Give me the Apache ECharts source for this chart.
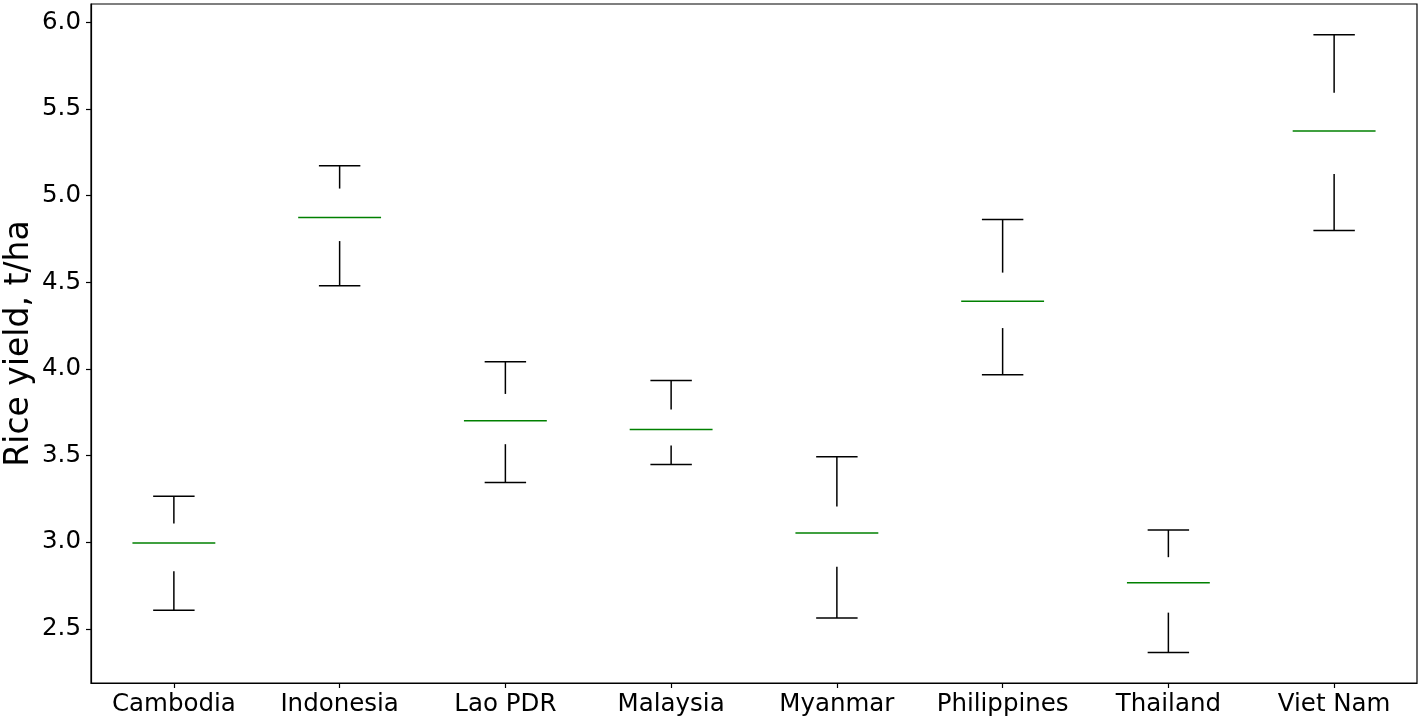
<!DOCTYPE html>
<html>
<head>
<meta charset="utf-8">
<script src="https://cdn.jsdelivr.net/npm/echarts@6/dist/echarts.min.js"></script>
<style>
  html, body { margin: 0; padding: 0; background: #fff; }
  #chart { width: 1422px; height: 723px; }
</style>
</head>
<body>
<div id="chart"></div>
<script>
// categories and whisker stats (t/ha)
const countries = ['Cambodia', 'Indonesia', 'Lao PDR', 'Malaysia', 'Myanmar', 'Philippines', 'Thailand', 'Viet Nam'];
const lowCap  = [2.607, 4.479, 3.344, 3.448, 2.562, 3.965, 2.363, 4.798];
const q1      = [2.832, 4.737, 3.565, 3.558, 2.858, 4.235, 2.593, 5.124];
const median  = [2.995, 4.873, 3.700, 3.650, 3.052, 4.390, 2.765, 5.372];
const q3      = [3.108, 5.040, 3.855, 3.765, 3.206, 4.555, 2.913, 5.593];
const highCap = [3.264, 5.172, 4.040, 3.932, 3.492, 4.862, 3.070, 5.927];
const yTicks  = ['2.5', '3.0', '3.5', '4.0', '4.5', '5.0', '5.5', '6.0'];

const FONT = 'DejaVu Sans';

const seriesData = countries.map((c, i) => [i, lowCap[i], q1[i], median[i], q3[i], highCap[i]]);

const chart = echarts.init(document.getElementById('chart'));

// whiskers + caps + median line, box itself not drawn
const renderItem = (params, api) => {
  const x = api.value(0);
  const pMin = api.coord([x, api.value(1)]);
  const pQ1 = api.coord([x, api.value(2)]);
  const pMed = api.coord([x, api.value(3)]);
  const pQ3 = api.coord([x, api.value(4)]);
  const pMax = api.coord([x, api.value(5)]);
  const bw = api.size([1, 0])[0];
  const capHalf = bw * 0.125;
  const medHalf = bw * 0.25;
  const blk = { stroke: '#000', lineWidth: 1.5 };
  return {
    type: 'group',
    children: [
      { type: 'line', shape: { x1: pQ3[0], y1: pQ3[1], x2: pMax[0], y2: pMax[1] }, style: blk },
      { type: 'line', shape: { x1: pMax[0] - capHalf, y1: pMax[1], x2: pMax[0] + capHalf, y2: pMax[1] }, style: blk },
      { type: 'line', shape: { x1: pQ1[0], y1: pQ1[1], x2: pMin[0], y2: pMin[1] }, style: blk },
      { type: 'line', shape: { x1: pMin[0] - capHalf, y1: pMin[1], x2: pMin[0] + capHalf, y2: pMin[1] }, style: blk },
      { type: 'line', shape: { x1: pMed[0] - medHalf, y1: pMed[1], x2: pMed[0] + medHalf, y2: pMed[1] }, style: { stroke: '#008000', lineWidth: 1.5 } }
    ]
  };
};

const tickVals = yTicks.map(Number);

const options = {
  animation: false,
  backgroundColor: '#fff',
  grid: {
    left: 91, right: 5, top: 4, bottom: 40,
    outerBoundsMode: 'none',
    containLabel: false,
    show: true, borderColor: '#000', borderWidth: 1.2, backgroundColor: 'transparent'
  },
  xAxis: {
    type: 'category',
    data: countries,
    boundaryGap: true,
    axisLine: { show: true, lineStyle: { color: '#000', width: 1.2 } },
    axisTick: { show: true, alignWithLabel: true, interval: 0, length: 5, lineStyle: { color: '#000', width: 1.2 } },
    axisLabel: { color: '#000', fontFamily: FONT, fontSize: 24.5, margin: 9, interval: 0, hideOverlap: false },
    splitLine: { show: false }
  },
  yAxis: {
    type: 'value',
    min: 2.187,
    max: 6.105,
    name: 'Rice yield, t/ha',
    nameLocation: 'middle',
    nameGap: 55,
    nameMoveOverlap: false,
    nameTextStyle: { color: '#000', fontFamily: FONT, fontSize: 33 },
    axisLine: { show: true, lineStyle: { color: '#000', width: 1.2 } },
    axisTick: { show: true, length: 5, customValues: tickVals, lineStyle: { color: '#000', width: 1.2 } },
    axisLabel: {
      color: '#000', fontFamily: FONT, fontSize: 24.5, margin: 10,
      customValues: tickVals,
      formatter: v => v.toFixed(1)
    },
    splitLine: { show: false }
  },
  series: [{
    type: 'custom',
    renderItem: renderItem,
    encode: { x: 0, y: [1, 2, 3, 4, 5] },
    data: seriesData
  }]
};

chart.setOption(options);
</script>
</body>
</html>
